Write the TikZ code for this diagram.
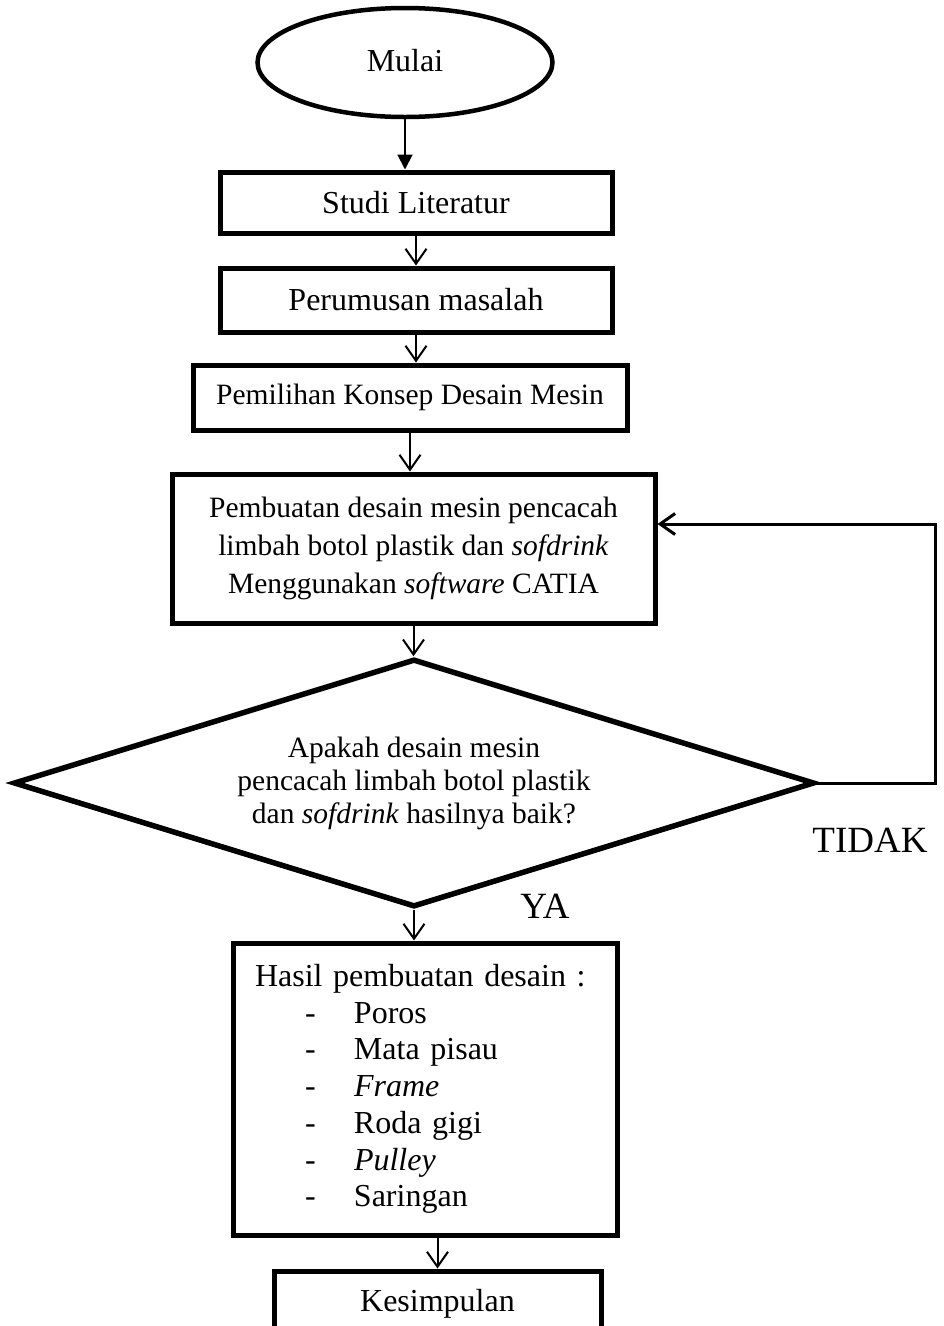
\documentclass[tikz,border=0pt]{standalone}
\usepackage{fontspec}
\setmainfont{Liberation Serif}
\usetikzlibrary{shapes.geometric,arrows.meta}
\begin{document}
\begin{tikzpicture}[x=1pt,y=-1pt,
  txt/.style={font=\fontsize{29.5}{38}\selectfont},
  bigtxt/.style={font=\fontsize{32}{38}\selectfont},
  box/.style={draw, line width=5pt, rectangle, inner sep=0pt, txt},
  lbl/.style={font=\fontsize{37}{40}\selectfont, inner sep=0pt},
  arr/.style={line width=2pt, -{Straight Barb[length=15pt,width=21pt,line width=2pt]}},
  arrfill/.style={line width=2pt, -{Triangle[length=15pt,width=15pt]}}]
\useasboundingbox (0,0) rectangle (943,1326);

\node[ellipse, draw, line width=4.5pt, minimum width=295pt, minimum height=109pt, inner sep=0pt, bigtxt] (mulai) at (405,62.5) {\raisebox{5pt}{Mulai}};
\node[box, bigtxt, minimum width=392pt, minimum height=61pt] (studi) at (416,202.5) {Studi Literatur};
\node[box, bigtxt, minimum width=392pt, minimum height=64pt] (perumusan) at (416,300) {Perumusan masalah};
\node[box, minimum width=434pt, minimum height=65pt] (pemilihan) at (410,397.5) {Pemilihan Konsep Desain Mesin};
\node[box, minimum width=483pt, minimum height=149pt, align=center] (pembuatan) at (413.5,548.5)
  {Pembuatan desain mesin pencacah\\ limbah botol plastik dan \textit{sofdrink}\\ Menggunakan \textit{software} CATIA};
\node[diamond, draw, line width=5.5pt, aspect=3.23, minimum width=801pt, minimum height=248pt, inner sep=0pt, align=center, font=\fontsize{29.5}{33}\selectfont] (keputusan) at (414,783)
  {Apakah desain mesin\\ pencacah limbah botol plastik\\ dan \textit{sofdrink} hasilnya baik?};
\node[box, minimum width=384pt, minimum height=292pt, align=left, text width=340pt, font=\fontsize{32}{36.7}\selectfont] (hasil) at (425,1089)
  {Hasil pembuatan desain :\\
   \hspace*{50pt}\makebox[49pt][l]{-}Poros\\
   \hspace*{50pt}\makebox[49pt][l]{-}Mata pisau\\
   \hspace*{50pt}\makebox[49pt][l]{-}\textit{Frame}\\
   \hspace*{50pt}\makebox[49pt][l]{-}Roda gigi\\
   \hspace*{50pt}\makebox[49pt][l]{-}\textit{Pulley}\\
   \hspace*{50pt}\makebox[49pt][l]{-}Saringan};
\node[box, bigtxt, minimum width=327pt, minimum height=66pt] (kesimpulan) at (437.5,1304) {Kesimpulan};

\node[lbl] (tidak) at (870,840) {TIDAK};
\node[lbl] (ya) at (545,906) {YA};

\coordinate (ret) at (935,524);

\draw[arrfill] (mulai.south) -- (mulai.south |- studi.north);
\draw[arr] (studi.south) -- (studi.south |- perumusan.north);
\draw[arr] (perumusan.south) -- (perumusan.south |- pemilihan.north);
\draw[arr] (pemilihan.south) -- (pemilihan.south |- pembuatan.north);
\draw[arr] (pembuatan.south) -- (pembuatan.south |- keputusan.north);
\draw[arr] (keputusan.south) -- (keputusan.south |- hasil.north);
\draw[arr] (hasil.south -| kesimpulan.north) -- (kesimpulan.north);
\draw[line width=3pt, -{Straight Barb[length=15pt,width=21pt,line width=3pt]}] (keputusan.east) -| (ret) -- (ret -| pembuatan.east);
\end{tikzpicture}
\end{document}
